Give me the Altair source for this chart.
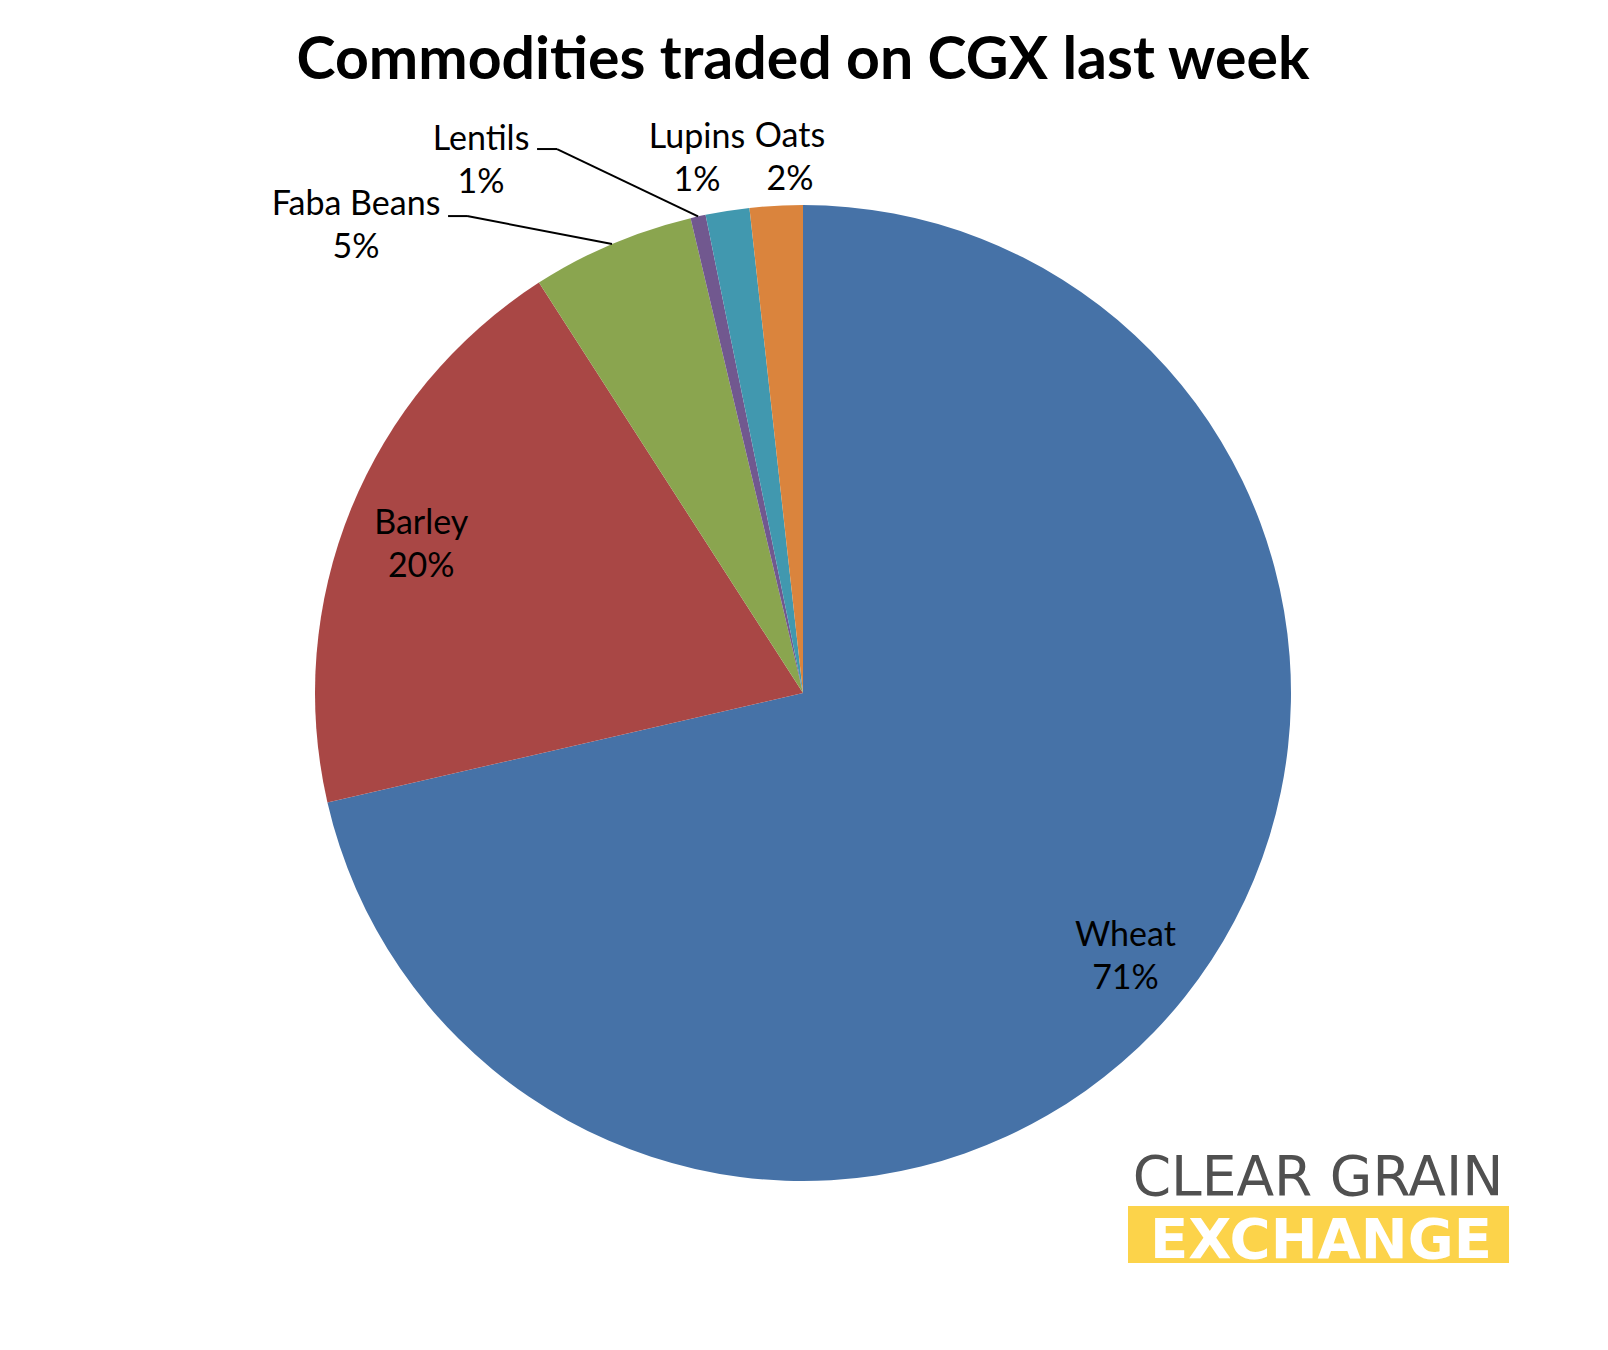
import math
import altair as alt
import pandas as pd

# ---------------- data ----------------
COMMODITIES = ["Wheat", "Barley", "Faba Beans", "Lentils", "Lupins", "Oats"]
SHARES = [71.4, 19.5, 5.4, 0.5, 1.45, 1.75]
PCT_LABELS = ["71%", "20%", "5%", "1%", "1%", "2%"]
COLORS = ["#4672A7", "#A94745", "#8AA54F", "#71588F", "#4198AF", "#DA843D"]

TITLE = "Commodities traded on CGX last week"
LOGO_TOP = "CLEAR GRAIN"
LOGO_BOTTOM = "EXCHANGE"

# ---------------- layout / style ----------------
W, H = 1592, 1334
CX, CY = 795, 685
R = 488
TOTAL = sum(SHARES)
FONT = "Lato"
TEXT_SHIFT = -20  # multi-line text block correction

# label placement: (radius, dx, dy)
LABEL_STYLE = {
    "Wheat": (416, -3, 4),
    "Barley": (410, -2, 5.5),
    "Faba Beans": (540, -235.6, 28.5),
    "Lentils": (540, -205.8, -6.1),
    "Lupins": (540, -22.4, -1.5),
    "Oats": (540, 16.7, 2.7),
}
# leader lines: label-relative start (dx), elbow (dx), y offset
LEADERS = {
    "Faba Beans": (92, 111, -8.5),
    "Lentils": (56, 76, -10.5),
}

df = pd.DataFrame({
    "name": COMMODITIES,
    "share": SHARES,
    "pct": PCT_LABELS,
    "order": list(range(len(COMMODITIES))),
})

color = alt.Color("name:N", scale=alt.Scale(domain=COMMODITIES, range=COLORS), legend=None)
theta_scale = alt.Scale(domain=[0, TOTAL])

base = alt.Chart(df)

pie = base.mark_arc(outerRadius=R).encode(
    theta=alt.Theta("share:Q", stack=True, scale=theta_scale),
    color=color,
    order=alt.Order("order:Q"),
    x=alt.value(CX),
    y=alt.value(CY),
)

label_base = base.transform_window(
    cum="sum(share)", sort=[alt.SortField("order")], frame=[None, 0]
).transform_calculate(
    mid="datum.cum - datum.share / 2",
    label="datum.name + '\\n' + datum.pct",
)

label_layers = []
for name in COMMODITIES:
    r, dx, dy = LABEL_STYLE[name]
    label_layers.append(
        label_base.transform_filter(alt.datum.name == name).mark_text(
            radius=r, dx=dx, dy=dy + TEXT_SHIFT, font=FONT, fontSize=34, lineBreak="\n",
            lineHeight=43, baseline="middle", align="center", color="black",
        ).encode(
            theta=alt.Theta("mid:Q", stack=None, scale=theta_scale),
            text="label:N",
            x=alt.value(CX),
            y=alt.value(CY),
        )
    )

# leader line segments computed from slice mid-angles
segs = []
cum = 0.0
for name, share in zip(COMMODITIES, SHARES):
    mid = cum + share / 2
    cum += share
    if name in LEADERS:
        a = mid / TOTAL * 2 * math.pi
        r, dx, dy = LABEL_STYLE[name]
        lx = CX + r * math.sin(a) + dx
        ly = CY - r * math.cos(a) + dy
        s_dx, e_dx, off_y = LEADERS[name]
        ex, ey = CX + R * math.sin(a), CY - R * math.cos(a)
        segs.append({"x": lx + s_dx, "y": ly + off_y, "x2": lx + e_dx, "y2": ly + off_y})
        segs.append({"x": lx + e_dx, "y": ly + off_y, "x2": ex, "y2": ey})
seg_df = pd.DataFrame(segs)

leaders = alt.Chart(seg_df).mark_rule(color="black", strokeWidth=2).encode(
    x=alt.X("x:Q", scale=None, axis=None),
    y=alt.Y("y:Q", scale=None, axis=None),
    x2="x2:Q",
    y2="y2:Q",
)

title = alt.Chart(pd.DataFrame({"t": [TITLE]})).mark_text(
    font=FONT, fontSize=59, fontWeight="bold", color="black",
    align="center", baseline="alphabetic",
).encode(text="t:N", x=alt.value(CX), y=alt.value(71))

logo_band = alt.Chart(pd.DataFrame({"t": [LOGO_BOTTOM]})).mark_rect(color="#FCD34A").encode(
    x=alt.value(1120), x2=alt.value(1501), y=alt.value(1198), y2=alt.value(1255)
)
logo_top = alt.Chart(pd.DataFrame({"t": [LOGO_TOP]})).mark_text(
    font="DejaVu Sans", fontSize=55, color="#505050", align="center", baseline="alphabetic",
).encode(text="t:N", x=alt.value(1310), y=alt.value(1187))
logo_bottom = alt.Chart(pd.DataFrame({"t": [LOGO_BOTTOM]})).mark_text(
    font="DejaVu Sans", fontSize=56, fontWeight="bold", color="white",
    align="center", baseline="alphabetic",
).encode(text="t:N", x=alt.value(1313), y=alt.value(1250))

chart = alt.layer(
    pie, *label_layers, leaders, title, logo_band, logo_top, logo_bottom
).properties(
    width=W, height=H, autosize=alt.AutoSizeParams(type="none"), padding=0,
).configure_view(stroke=None)

chart.save("out.html", embed_options={"renderer": "svg", "actions": False})
